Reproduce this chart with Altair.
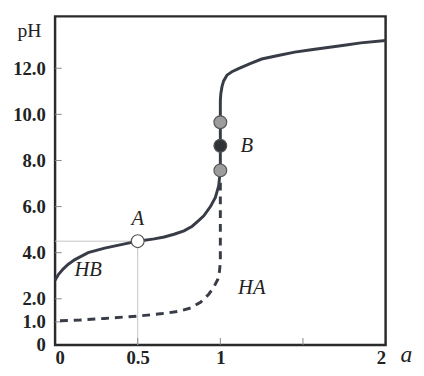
import altair as alt
import pandas as pd

# Solid curve (HB and continuation above the equivalence point)
solid_x = [0, 0.02, 0.05, 0.08, 0.12, 0.2, 0.3, 0.4, 0.5, 0.6, 0.66, 0.72, 0.78, 0.83, 0.87, 0.9, 0.94, 0.97, 0.99, 1.0,
           1.0, 1.003, 1.01, 1.02, 1.04, 1.07, 1.11, 1.18, 1.25, 1.35, 1.45, 1.55, 1.65, 1.75, 1.85, 2.0]
solid_y = [2.8, 3.05, 3.3, 3.5, 3.7, 4.0, 4.2, 4.35, 4.5, 4.6, 4.68, 4.8, 4.95, 5.15, 5.4, 5.6, 6.0, 6.4, 6.9, 7.57,
           10.6, 10.9, 11.2, 11.45, 11.7, 11.85, 11.98, 12.2, 12.4, 12.55, 12.7, 12.8, 12.9, 13.0, 13.1, 13.2]

# Dashed curve (HA)
dash_x = [0.03, 0.15, 0.3, 0.5, 0.65, 0.75, 0.82, 0.88, 0.93, 0.96, 0.985, 0.995, 1.0, 1.0]
dash_y = [1.05, 1.08, 1.15, 1.25, 1.36, 1.46, 1.6, 1.85, 2.2, 2.5, 2.85, 3.2, 3.6, 7.4]

# Marked points
pt_x = [0.5, 1.0, 1.0, 1.0]
pt_y = [4.5, 7.57, 8.64, 9.66]
pt_kind = ["open", "grey", "dark", "grey"]

# Labels
lab_text = ["A", "B", "HB", "HA"]
lab_x = [0.5, 1.16, 0.2, 1.19]
lab_y = [5.45, 8.64, 3.23, 2.47]

# Axis ticks
y_ticks = [0, 1, 2, 4, 6, 8, 10, 12]
x_ticks = [0, 0.5, 1, 2]
x_minor = [0.5, 1, 1.5]
y_minor = [1, 2, 4, 6, 8, 10, 12]

solid = pd.DataFrame({"x": solid_x, "y": solid_y, "i": range(len(solid_x))})
dashed = pd.DataFrame({"x": dash_x, "y": dash_y, "i": range(len(dash_x))})
pts = pd.DataFrame({"x": pt_x, "y": pt_y, "kind": pt_kind})
labs = pd.DataFrame({"t": lab_text, "x": lab_x, "y": lab_y})

xs = alt.Scale(domain=[0, 2], nice=False, zero=False)
ys = alt.Scale(domain=[0, 14.25], nice=False, zero=False)

FONT = "Liberation Serif"
LINE = "#383c47"

X = alt.X("x:Q", scale=xs, axis=alt.Axis(values=x_ticks, title=None, domain=False, ticks=False, grid=False,
                                         labelFont=FONT, labelFontSize=19, labelFontWeight="bold",
                                         labelColor="#222", labelPadding=4,
                                         labelExpr="datum.value == 0 ? '0' : format(datum.value, '')"))
Y = alt.Y("y:Q", scale=ys, axis=alt.Axis(values=y_ticks, title=None, domain=False, ticks=False, grid=False,
                                         labelFont=FONT, labelFontSize=19, labelFontWeight="bold",
                                         labelColor="#222", labelPadding=10,
                                         labelExpr="datum.value == 0 ? '0' : format(datum.value, '.1f')"))

solid_line = alt.Chart(solid).mark_line(color=LINE, strokeWidth=3).encode(x=X, y=Y, order="i:Q")
dash_line = alt.Chart(dashed).mark_line(color=LINE, strokeWidth=3, strokeDash=[8, 6]).encode(
    x="x:Q", y="y:Q", order="i:Q")

guide_h = alt.Chart(pd.DataFrame({"x": [0], "x2": [0.5], "y": [4.5]})).mark_rule(
    color="#c4c4c4", strokeWidth=1).encode(x="x:Q", x2="x2:Q", y="y:Q")
guide_v = alt.Chart(pd.DataFrame({"x": [0.5], "y": [0], "y2": [4.5]})).mark_rule(
    color="#c4c4c4", strokeWidth=1).encode(x="x:Q", y="y:Q", y2="y2:Q")

xt = alt.Chart(pd.DataFrame({"x": x_minor, "y": [0] * 3, "y2": [0.3] * 3})).mark_rule(
    color="#888", strokeWidth=1).encode(x="x:Q", y="y:Q", y2="y2:Q")
yt = alt.Chart(pd.DataFrame({"y": y_minor, "x": [0] * 7, "x2": [0.04] * 7})).mark_rule(
    color="#888", strokeWidth=1).encode(y="y:Q", x="x:Q", x2="x2:Q")

points = alt.Chart(pts).mark_point(filled=True, size=170, stroke="#555", strokeWidth=1.2, opacity=1).encode(
    x="x:Q", y="y:Q",
    fill=alt.Fill("kind:N", scale=alt.Scale(domain=["open", "grey", "dark"],
                                            range=["#ffffff", "#9c9c9c", "#2f3338"]), legend=None))

labels = alt.Chart(labs).mark_text(font=FONT, fontSize=21, fontStyle="italic", color="#222",
                                   align="center", baseline="middle").encode(x="x:Q", y="y:Q", text="t:N")

extra = alt.Chart(pd.DataFrame({"t": ["pH"], "x": [-0.155], "y": [13.6]})).mark_text(
    font=FONT, fontSize=20, color="#222", align="center", baseline="middle").encode(x="x:Q", y="y:Q", text="t:N")
a_lab = alt.Chart(pd.DataFrame({"t": ["a"], "x": [2.09], "y": [-0.45]})).mark_text(
    font=FONT, fontSize=24, fontStyle="italic", color="#222", align="left", baseline="middle").encode(
    x="x:Q", y="y:Q", text="t:N")

chart = alt.layer(guide_h, guide_v, xt, yt, dash_line, solid_line, points, labels, extra, a_lab).properties(
    width=337, height=335,
    background="white",
    autosize=alt.AutoSizeParams(type="none"),
    padding={"left": 48, "top": 5, "right": 31, "bottom": 20},
).configure_view(stroke="#2a2a2a", strokeWidth=2.5)

chart.save("out.html", embed_options={"renderer": "svg", "actions": False})
